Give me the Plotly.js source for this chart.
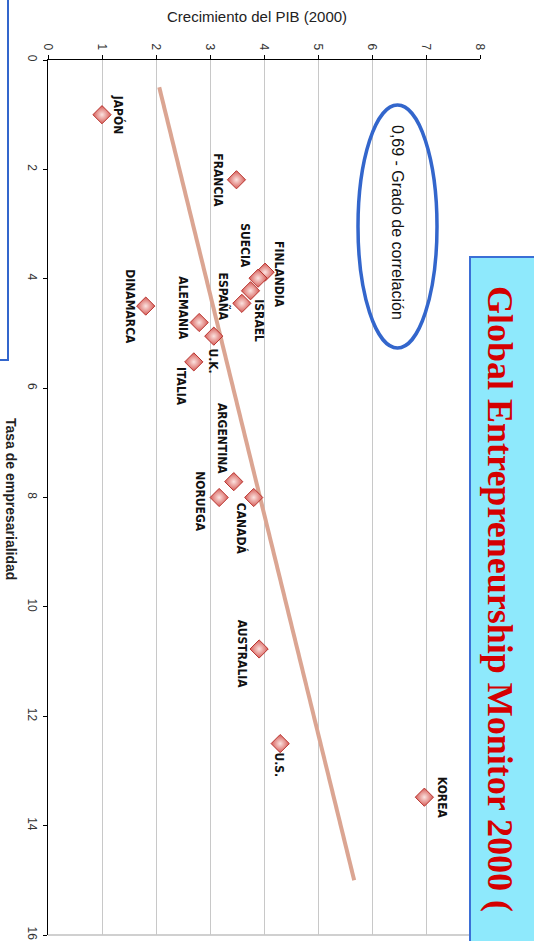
<!DOCTYPE html>
<html>
<head>
<meta charset="utf-8">
<script src="https://cdn.plot.ly/plotly-3.0.1.min.js"></script>
<style>html,body{margin:0;padding:0;background:#fff;overflow:hidden}#chart{width:534px;height:941px}</style>
</head>
<body>
<div id="chart"></div>
<script>
// ---- data ----
const countries = ['JAPÓN','FRANCIA','FINLANDIA','SUECIA','ISRAEL','ESPAÑA','ALEMANIA','U.K.','ITALIA','DINAMARCA','ARGENTINA','NORUEGA','CANADÁ','AUSTRALIA','U.S.','KOREA'];
const gdpGrowth = [1.0, 3.49, 4.02, 3.89, 3.75, 3.59, 2.80, 3.07, 2.70, 1.81, 3.44, 3.17, 3.81, 3.91, 4.30, 6.97];
const entrepreneurshipRate = [1.0, 2.19, 3.88, 3.99, 4.22, 4.45, 4.80, 5.05, 5.52, 4.50, 7.71, 8.00, 8.00, 10.77, 12.50, 13.48];
const trendGdp = [2.06, 5.67];
const trendRate = [0.5, 15.0];
const gdpTicks = [0,1,2,3,4,5,6,7,8];
const rateTicks = [0,2,4,6,8,10,12,14,16];
const correlationText = '0,69 - Grado de correlación';
const xTitle = 'Crecimiento del PIB (2000)';
const yTitle = 'Tasa de empresarialidad';
const bannerText = 'Global Entrepreneurship Monitor 2000 (';

// ---- label placement (pixel offsets, layout only) ----
const labelDx = [16,-18,14,-13,9,-18,-16,-1,-13,-16,-11,-19,-12,-17,-1,17];
const labelDy = [0,1,2,-33,30,-7,-14,25,25,1,-43,4,31,5,21,1];

const labelFont = {family:'"Liberation Sans Narrow","Arial Narrow","DejaVu Sans Condensed",sans-serif', size:12, color:'#111', weight:'bold'};

const traces = [
  {x: trendGdp, y: trendRate, mode:'lines', type:'scatter',
   line:{color:'#dba592', width:4}, hoverinfo:'skip', showlegend:false},
  {x: gdpGrowth, y: entrepreneurshipRate, mode:'markers', type:'scatter', text: countries,
   marker:{symbol:'diamond', size:14, color:'#d65a55',
     gradient:{type:'radial', color:'#fbe3e0'},
     line:{color:'#b8332e', width:1}}, showlegend:false}
];

const annotations = countries.map((c,i)=>({
  x: gdpGrowth[i], y: entrepreneurshipRate[i], xref:'x', yref:'y',
  text: '<b>'+c+'</b>', showarrow:false, textangle:90,
  xshift: labelDx[i], yshift: -labelDy[i],
  xanchor:'center', yanchor:'middle', font: labelFont
}));

// pixel helpers for paper coords: plot area x 48..480, y 60..935
const px = v => (v-48)/432;
const py = v => (935-v)/875;

annotations.push(
  {xref:'paper', yref:'paper', x:px(257), y:py(17), text:xTitle, showarrow:false,
   xanchor:'center', yanchor:'middle', font:{family:'"Liberation Sans",Arial,sans-serif', size:15, color:'#222'}},
  {xref:'paper', yref:'paper', x:px(11), y:py(499), text:'<b>'+yTitle+'</b>', showarrow:false, textangle:90,
   xanchor:'center', yanchor:'middle', font:{family:'"Liberation Sans",Arial,sans-serif', size:14, color:'#222'}},
  {xref:'paper', yref:'paper', x:px(398), y:py(222), text:correlationText, showarrow:false, textangle:90,
   xanchor:'center', yanchor:'middle', font:{family:'"Liberation Sans",Arial,sans-serif', size:16, color:'#111'}},
  {xref:'paper', yref:'paper', x:px(500), y:py(284), text:'<b>'+bannerText+'</b>', showarrow:false, textangle:90,
   xanchor:'center', yanchor:'top', font:{family:'"Liberation Serif","Times New Roman",serif', size:36, color:'#d40000'}}
);

const shapes = [
  {type:'line', xref:'paper', yref:'paper', x0:0, x1:1, y0:0, y1:0, line:{color:'#d0d0d0', width:2}, layer:'below'},
  {type:'circle', xref:'paper', yref:'paper', x0:px(358), x1:px(437), y0:py(348), y1:py(105), line:{color:'#3366cc', width:3.5}},
  {type:'rect', xref:'paper', yref:'paper', x0:px(-20), x1:px(8), y0:py(360), y1:py(-20), line:{color:'#3366cc', width:2}},
  {type:'rect', xref:'paper', yref:'paper', x0:px(470), x1:px(560), y0:py(960), y1:py(257), fillcolor:'#8ee9fc', line:{color:'#3b6fd6', width:2}}
];

const layout = {
  width:534, height:941,
  margin:{l:48, r:54, t:60, b:6, pad:0},
  paper_bgcolor:'#fff', plot_bgcolor:'#fff',
  showlegend:false,
  xaxis:{side:'top', range:[0,8], tickvals:gdpTicks, ticktext:gdpTicks.map(String), tickangle:90,
    ticks:'outside', ticklen:4, tickcolor:'#000', showline:true, linecolor:'#000', linewidth:1.5,
    showgrid:true, gridcolor:'#c8c8c8', gridwidth:1, zeroline:false,
    tickfont:{family:'"Liberation Sans",Arial,sans-serif', size:12, color:'#333'}},
  yaxis:{range:[16,0], tickvals:rateTicks, ticktext:rateTicks.map(String), tickangle:90,
    ticks:'outside', ticklen:4, tickcolor:'#000', showline:true, linecolor:'#000', linewidth:1.5,
    showgrid:false, zeroline:false,
    tickfont:{family:'"Liberation Sans",Arial,sans-serif', size:12, color:'#333'}},
  annotations: annotations,
  shapes: shapes
};

Plotly.newPlot('chart', traces, layout, {staticPlot:true, displayModeBar:false});
</script>
</body>
</html>
